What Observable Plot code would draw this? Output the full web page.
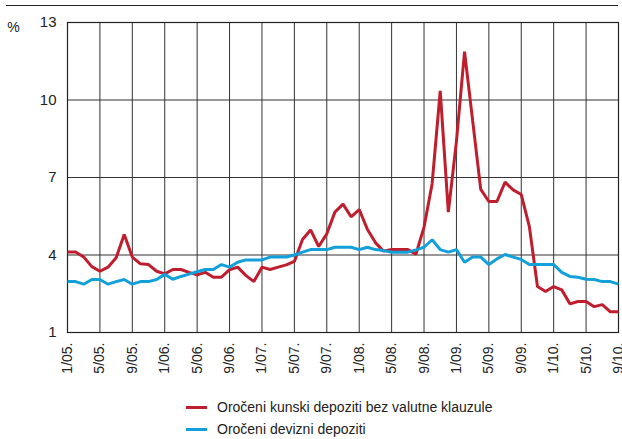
<!DOCTYPE html>
<html>
<head>
<meta charset="utf-8">
<script src="https://cdn.jsdelivr.net/npm/d3@7"></script>
<script src="https://cdn.jsdelivr.net/npm/@observablehq/plot@0.6"></script>
<style>
  html, body { margin: 0; padding: 0; background: #fff; }
  body { width: 622px; height: 439px; overflow: hidden; position: relative; font-family: "Liberation Sans", Arial, sans-serif; }
  #rule { position: absolute; left: 6px; top: 5px; width: 612px; border-top: 1.5px solid #222; }
  #legend { padding: 11px 0 0 186px; font-size: 14px; color: #222; }
  .item { display: flex; align-items: center; height: 22px; }
  .sw { width: 21px; height: 3px; margin-right: 10px; }
</style>
</head>
<body>
<div id="rule"></div>
<div id="chart"></div>
<div id="legend"></div>
<script>
const seriesNames = ["Oročeni kunski depoziti bez valutne klauzule", "Oročeni devizni depoziti"];
const seriesColors = ["#be1e2d", "#12a0da"];
const tickLabels = ["1/05.","5/05.","9/05.","1/06.","5/06.","9/06.","1/07.","5/07.","9/07.","1/08.","5/08.","9/08.","1/09.","5/09.","9/09.","1/10.","5/10.","9/10."];
const yTicks = [1, 4, 7, 10, 13];
// monthly values, Jan 2005 .. Sep 2010
const kunski = [4.12,4.12,3.92,3.55,3.37,3.53,3.89,4.79,3.92,3.66,3.63,3.37,
  3.27,3.44,3.44,3.33,3.23,3.33,3.14,3.14,3.43,3.53,3.21,2.97,
  3.53,3.44,3.53,3.62,3.75,4.60,4.97,4.33,4.82,5.66,5.97,5.48,
  5.76,5.00,4.48,4.15,4.21,4.21,4.21,4.03,5.08,6.76,10.35,5.66,
  8.40,11.87,9.20,6.54,6.07,6.07,6.82,6.52,6.34,5.10,2.78,2.59,
  2.78,2.65,2.11,2.20,2.20,2.00,2.08,1.80,1.80];
const devizni = [2.97,2.97,2.87,3.05,3.05,2.87,2.97,3.05,2.87,2.97,2.97,3.05,
  3.25,3.06,3.17,3.26,3.35,3.44,3.44,3.63,3.53,3.72,3.81,3.81,
  3.81,3.92,3.92,3.92,4.00,4.11,4.21,4.21,4.21,4.30,4.30,4.30,
  4.21,4.30,4.21,4.17,4.11,4.11,4.11,4.20,4.30,4.59,4.21,4.11,
  4.21,3.72,3.92,3.92,3.63,3.85,4.02,3.92,3.83,3.63,3.63,3.63,
  3.63,3.33,3.17,3.14,3.06,3.05,2.97,2.97,2.87];

const data = [];
kunski.forEach((v, i) => data.push({m: i, v, s: seriesNames[0]}));
devizni.forEach((v, i) => data.push({m: i, v, s: seriesNames[1]}));
const xTicks = tickLabels.map((_, i) => i * 4);

const font = "Liberation Sans, Arial, sans-serif";
const plot = Plot.plot({
  width: 622,
  height: 385,
  marginTop: 22,
  marginBottom: 53,
  marginLeft: 67,
  marginRight: 4,
  style: {fontFamily: font, fontSize: "14px", color: "#222", background: "#fff"},
  x: {domain: [0, kunski.length - 1]},
  y: {domain: [1, 13]},
  color: {domain: seriesNames, range: seriesColors},
  marks: [
    Plot.ruleX(xTicks, {stroke: "#333", strokeWidth: 1}),
    Plot.ruleY(yTicks, {stroke: "#333", strokeWidth: 1}),
    Plot.frame({stroke: "#222", strokeWidth: 1.2}),
    Plot.line(data, {x: "m", y: "v", z: "s", stroke: "s", strokeWidth: 3, strokeLinejoin: "miter", strokeLinecap: "butt"}),
    Plot.axisY({ticks: yTicks, tickSize: 0, tickPadding: 11, label: null, fontSize: 15}),
    Plot.axisX({ticks: xTicks, tickFormat: (d) => tickLabels[d / 4], tickRotate: -90, tickSize: 0, tickPadding: 10, label: null, fontSize: 14}),
    Plot.text(["%"], {frameAnchor: "top-left", dx: -54, dy: 0, text: (d) => d, fontSize: 14, textAnchor: "middle"})
  ]
});
document.getElementById("chart").appendChild(plot);

const legend = document.getElementById("legend");
seriesNames.forEach((name, i) => {
  const item = document.createElement("div");
  item.className = "item";
  const sw = document.createElement("span");
  sw.className = "sw";
  sw.style.background = seriesColors[i];
  const t = document.createElement("span");
  t.textContent = name;
  item.appendChild(sw);
  item.appendChild(t);
  legend.appendChild(item);
});
</script>
</body>
</html>
